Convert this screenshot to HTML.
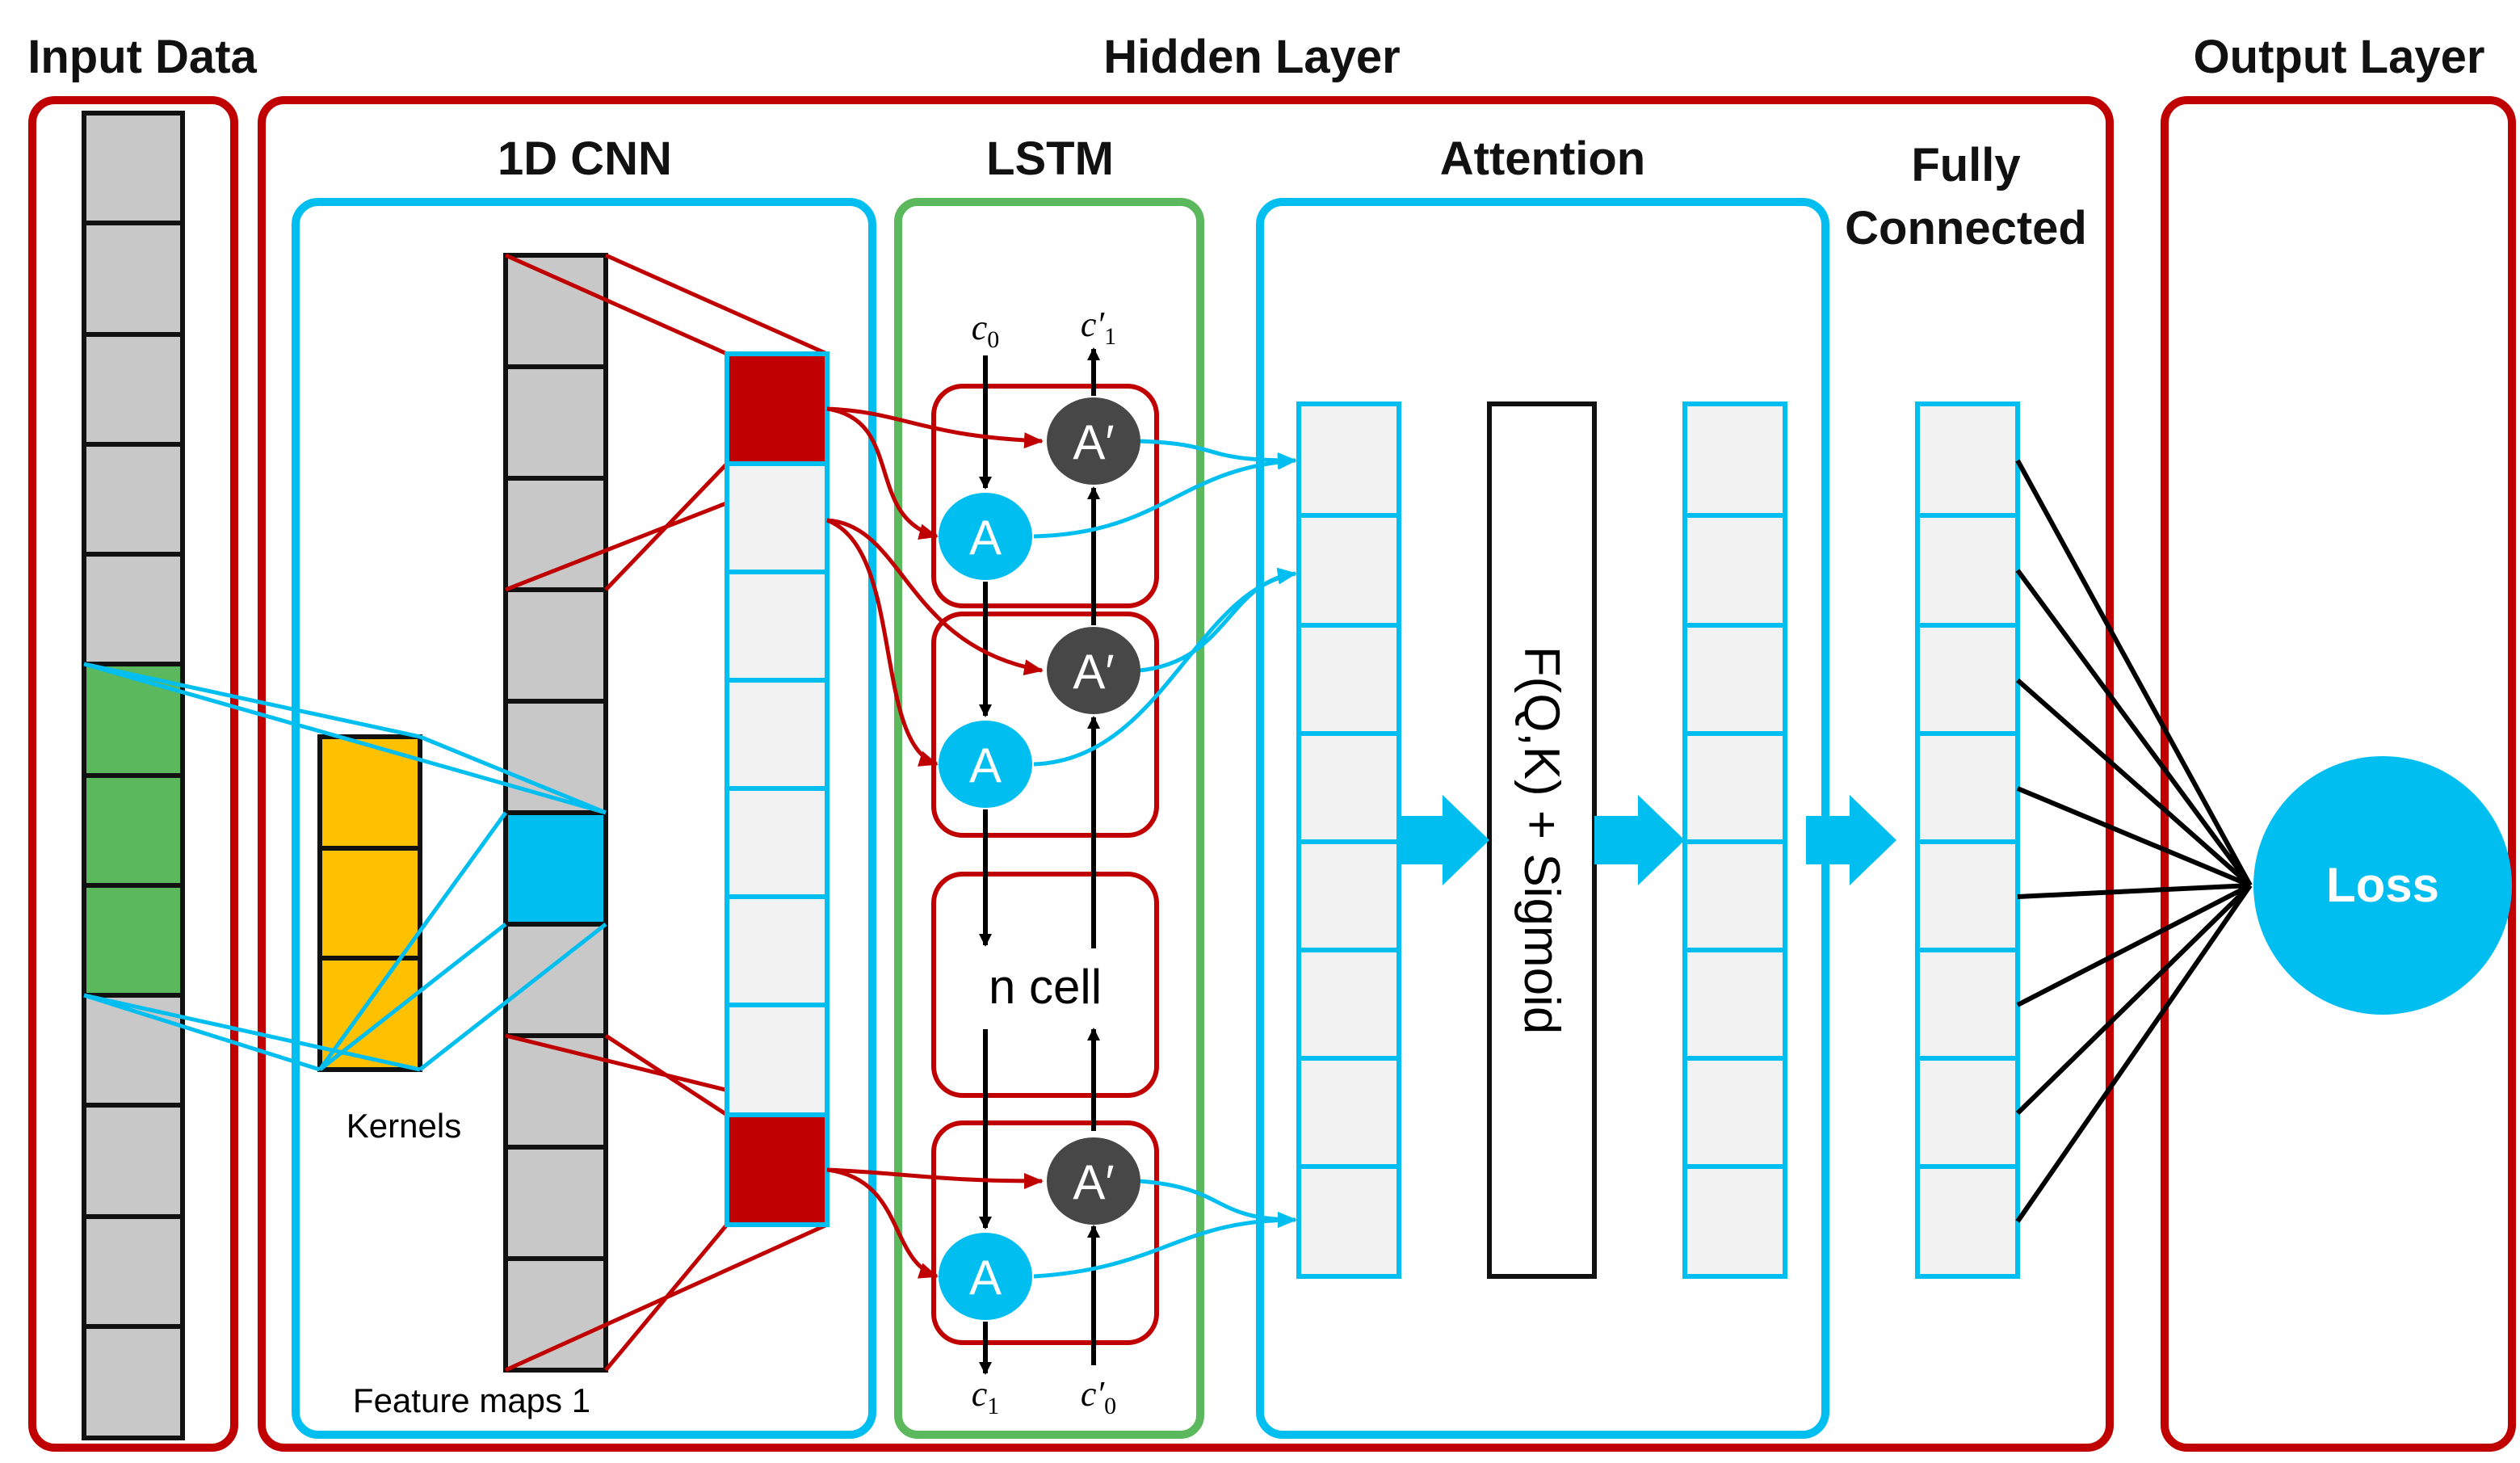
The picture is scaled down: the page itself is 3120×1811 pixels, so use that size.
<!DOCTYPE html>
<html><head><meta charset="utf-8"><style>html,body{margin:0;padding:0;background:#fff}svg{display:block}</style></head>
<body>
<svg width="3120" height="1811" viewBox="0 0 1560 905.5" xmlns="http://www.w3.org/2000/svg" font-family="Liberation Sans, sans-serif">
<defs>
<marker id="ab" markerWidth="8" markerHeight="8" refX="7" refY="4" orient="auto" markerUnits="userSpaceOnUse" viewBox="0 0 8 8"><path d="M0,0L8,4L0,8z" fill="#000"/></marker>
<marker id="ar" markerWidth="12" markerHeight="10" refX="11" refY="5" orient="auto" markerUnits="userSpaceOnUse"><path d="M0,0L12,5L0,10z" fill="#C00000"/></marker>
<marker id="ac" markerWidth="12" markerHeight="10" refX="11" refY="5" orient="auto" markerUnits="userSpaceOnUse"><path d="M0,0L12,5L0,10z" fill="#00BFF0"/></marker>
<marker id="ak" markerWidth="14" markerHeight="12" refX="13" refY="6" orient="auto" markerUnits="userSpaceOnUse"><path d="M0,0L14,6L0,12z" fill="#000"/></marker>
</defs>
<g font-weight="bold" font-size="29" text-anchor="middle" fill="#111">
<text x="88" y="45">Input Data</text>
<text x="775" y="45">Hidden Layer</text>
<text x="1448" y="45">Output Layer</text>
<text x="362" y="108">1D CNN</text>
<text x="650" y="108">LSTM</text>
<text x="955" y="108">Attention</text>
<text x="1217" y="112">Fully</text>
<text x="1217" y="151">Connected</text>
</g>
<g fill="none" stroke="#C00000" stroke-width="5">
<rect x="20" y="62" width="125" height="834" rx="14"/>
<rect x="162" y="62" width="1144" height="834" rx="14"/>
<rect x="1340" y="62" width="215" height="834" rx="14"/>
</g>
<g fill="none" stroke="#00BFF0" stroke-width="5">
<rect x="183" y="125" width="357" height="763" rx="14"/>
<rect x="780" y="125" width="350" height="763" rx="14"/>
</g>
<rect x="556" y="125" width="187" height="763" rx="12" fill="none" stroke="#5CB85C" stroke-width="5"/>

<!-- input column -->
<g stroke="#111" stroke-width="3">
<rect x="52" y="70" width="61" height="820" fill="#c8c8c8"/>
<rect x="52" y="411" width="61" height="205" fill="#5CB85C"/>
<path d="M52 138H113M52 207H113M52 275H113M52 343H113M52 480H113M52 548H113M52 684H113M52 753H113M52 821H113"/>
</g>
<!-- kernels -->
<g stroke="#111" stroke-width="3">
<rect x="198" y="456" width="62" height="206" fill="#FFC000"/>
<path d="M198 525H260M198 593H260"/>
</g>
<text x="250" y="704" font-size="21" text-anchor="middle">Kernels</text>
<!-- feature map -->
<g stroke="#111" stroke-width="3">
<rect x="313" y="158" width="62" height="690" fill="#c8c8c8"/>
<rect x="313" y="503" width="62" height="69" fill="#00BFF0"/>
<path d="M313 227H375M313 296H375M313 365H375M313 434H375M313 641H375M313 710H375M313 779H375"/>
</g>
<text x="292" y="874" font-size="21" text-anchor="middle">Feature maps 1</text>
<!-- blue conv lines -->
<g stroke="#00BFF0" stroke-width="2.5" fill="none">
<path d="M52 411L260 456M52 411L375 503M52 616L198 662M52 616L260 662M198 662L313 572M260 662L375 572M260 456L375 503M198 662L313 503"/>
</g>
<!-- red pooling lines -->
<g stroke="#C00000" stroke-width="2.5" fill="none">
<path d="M313 158L450 219M375 158L512 219M313 365L512 287M375 365L450 287M313 641L512 690M375 641L450 690M313 848L512 758M375 848L450 758"/>
</g>
<!-- column 2 -->
<g stroke="#00BFF0" stroke-width="3">
<rect x="450" y="219" width="62" height="539" fill="#f2f2f2"/>
<path d="M450 354H512M450 421H512M450 488H512M450 555H512M450 622H512"/>
<rect x="450" y="219" width="62" height="68" fill="#C00000"/>
<rect x="450" y="690" width="62" height="68" fill="#C00000"/>
<path d="M450 287H512M450 690H512"/>
</g>
<!-- LSTM cells -->
<g fill="none" stroke="#C00000" stroke-width="3">
<rect x="578" y="239" width="138" height="136" rx="18"/>
<rect x="578" y="380" width="138" height="137" rx="18"/>
<rect x="578" y="541" width="138" height="137" rx="18"/>
<rect x="578" y="695" width="138" height="136" rx="18"/>
</g>
<text x="647" y="621" font-size="30" text-anchor="middle">n cell</text>
<g stroke="#000" stroke-width="3" fill="none">
<path d="M610 220V302" marker-end="url(#ab)"/>
<path d="M610 360V443" marker-end="url(#ab)"/>
<path d="M610 501V585" marker-end="url(#ab)"/>
<path d="M610 637V760" marker-end="url(#ab)"/>
<path d="M610 818V850" marker-end="url(#ab)"/>
<path d="M677 845V759" marker-end="url(#ab)"/>
<path d="M677 700V637" marker-end="url(#ab)"/>
<path d="M677 587V444" marker-end="url(#ab)"/>
<path d="M677 387V302" marker-end="url(#ab)"/>
<path d="M677 245V216" marker-end="url(#ab)"/>
</g>
<g font-family="Liberation Serif, serif" font-style="italic" font-size="22" text-anchor="middle">
<text x="610" y="210">c<tspan font-size="15" font-style="normal" dy="5">0</tspan></text>
<text x="680" y="208">c′<tspan font-size="15" font-style="normal" dy="5">1</tspan></text>
<text x="610" y="870">c<tspan font-size="15" font-style="normal" dy="5">1</tspan></text>
<text x="680" y="870">c′<tspan font-size="15" font-style="normal" dy="5">0</tspan></text>
</g>
<!-- red curved arrows -->
<g stroke="#C00000" stroke-width="2.5" fill="none">
<path d="M512 253C560 255 570 270 645 273" marker-end="url(#ar)"/>
<path d="M512 253C560 260 535 320 580 332" marker-end="url(#ar)"/>
<path d="M512 322C560 325 560 400 645 415" marker-end="url(#ar)"/>
<path d="M512 322C560 340 540 460 580 473" marker-end="url(#ar)"/>
<path d="M512 724C560 726 580 731 645 731" marker-end="url(#ar)"/>
<path d="M512 724C560 730 550 780 580 790" marker-end="url(#ar)"/>
</g>
<!-- blue curves -->
<g stroke="#00BFF0" stroke-width="2.5" fill="none">
<path d="M705 273C760 275 740 285 802 285" marker-end="url(#ac)"/>
<path d="M640 332C720 330 730 290 802 285" marker-end="url(#ac)"/>
<path d="M705 415C760 410 760 360 802 355" marker-end="url(#ac)"/>
<path d="M640 473C720 470 740 365 802 355" marker-end="url(#ac)"/>
<path d="M705 731C760 735 750 755 802 755" marker-end="url(#ac)"/>
<path d="M640 790C720 785 730 755 802 755" marker-end="url(#ac)"/>
</g>
<!-- circles -->
<g font-size="30" text-anchor="middle" fill="#fff">
<ellipse cx="610" cy="332" rx="29" ry="27" fill="#00BFF0"/><text x="610" y="343">A</text>
<ellipse cx="610" cy="473" rx="29" ry="27" fill="#00BFF0"/><text x="610" y="484">A</text>
<ellipse cx="610" cy="790" rx="29" ry="27" fill="#00BFF0"/><text x="610" y="801">A</text>
<ellipse cx="677" cy="273" rx="29" ry="27" fill="#474747"/><text x="677" y="284">A′</text>
<ellipse cx="677" cy="415" rx="29" ry="27" fill="#474747"/><text x="677" y="426">A′</text>
<ellipse cx="677" cy="731" rx="29" ry="27" fill="#474747"/><text x="677" y="742">A′</text>
</g>
<!-- attention columns -->
<g stroke="#00BFF0" stroke-width="3" fill="#f2f2f2">
<rect x="804" y="250" width="62" height="540"/>
<rect x="1043" y="250" width="62" height="540"/>
<rect x="1187" y="250" width="62" height="540"/>
<path d="M804 319H866M804 387H866M804 454H866M804 521H866M804 588H866M804 655H866M804 722H866"/>
<path d="M1043 319H1105M1043 387H1105M1043 454H1105M1043 521H1105M1043 588H1105M1043 655H1105M1043 722H1105"/>
<path d="M1187 319H1249M1187 387H1249M1187 454H1249M1187 521H1249M1187 588H1249M1187 655H1249M1187 722H1249"/>
</g>
<rect x="922" y="250" width="65" height="540" fill="#fff" stroke="#111" stroke-width="3"/>
<text transform="translate(944,520) rotate(90)" font-size="31" text-anchor="middle">F(Q,K) + Sigmoid</text>
<!-- block arrows -->
<g fill="#00BFF0">
<path d="M866 505H893V492L922 520L893 548V535H866Z"/>
<path d="M987 505H1014V492L1043 520L1014 548V535H987Z"/>
<path d="M1118 505H1145V492L1174 520L1145 548V535H1118Z"/>
</g>
<!-- FC lines -->
<g stroke="#000" stroke-width="3">
<path d="M1249 285L1393 548M1249 353L1393 548M1249 421L1393 548M1249 488L1393 548M1249 555L1393 548M1249 622L1393 548M1249 689L1393 548M1249 756L1393 548"/>
</g>
<circle cx="1475" cy="548" r="80" fill="#00BFF0"/>
<text x="1475" y="558" font-size="30" font-weight="bold" fill="#fff" text-anchor="middle">Loss</text>
</svg>
</body></html>
